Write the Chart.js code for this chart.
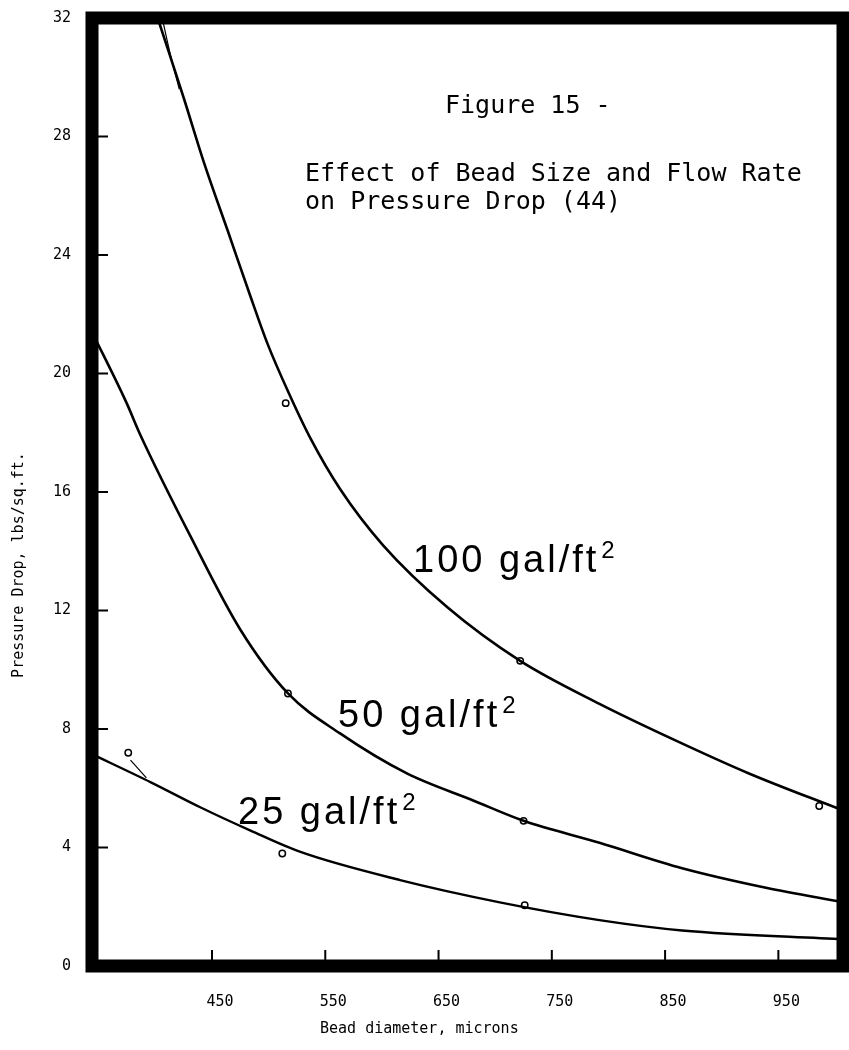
<!DOCTYPE html>
<html>
<head>
<meta charset="utf-8">
<title>Figure 15 - Pressure Drop</title>
<script src="https://cdn.jsdelivr.net/npm/chart.js@4.4.0/dist/chart.umd.min.js"></script>
<style>
  html, body { margin: 0; padding: 0; background: #fff; }
  #PressureChart { display: block; }
</style>
</head>
<body>
<canvas id="PressureChart" width="849" height="1050"></canvas>
<script>
// axis ticks
const beadTicks = [450, 550, 650, 750, 850, 950];
const dropTicks = [0, 4, 8, 12, 16, 20, 24, 28, 32];

// 100 gal/ft2 curve (bead diameter, pressure drop)
const bead100 = [390, 395, 418, 436, 457, 476, 492, 510, 530, 556, 594, 651, 715, 785, 853, 917, 1000];
const drop100 = [32.6, 32.0, 29.3, 27.1, 24.8, 22.7, 21.0, 19.4, 17.8, 16.1, 14.2, 12.1, 10.3, 8.85, 7.6, 6.5, 5.25];

// 50 gal/ft2 curve
const bead50 = [337, 367, 380, 424, 468, 510, 556, 615, 674, 718, 785, 858, 932, 1000];
const drop50 = [21.4, 19.05, 17.9, 14.5, 11.35, 9.2, 7.85, 6.5, 5.58, 4.9, 4.16, 3.3, 2.64, 2.15];

// 25 gal/ft2 curve
const bead25 = [337, 389, 433, 477, 521, 609, 697, 785, 858, 1000];
const drop25 = [7.15, 6.2, 5.35, 4.57, 3.85, 2.9, 2.15, 1.55, 1.2, 0.9];

// plotted experimental points
const pointBead = [508, 715, 979, 510, 718, 369, 505, 719];
const pointDrop = [19.0, 10.3, 5.4, 9.2, 4.9, 7.2, 3.8, 2.05];

// faint hand-drawn guides
const guideBead = [399, 406, 414];
const guideDrop = [32.0, 30.8, 29.6];
const guide25Bead = [371, 385];
const guide25Drop = [6.95, 6.35];

const monoFont = "'DejaVu Sans Mono', monospace";

function toXY(xs, ys) {
  return xs.map((x, i) => ({ x: x, y: ys[i] }));
}

function curve(xs, ys, width) {
  return {
    type: 'line',
    data: toXY(xs, ys),
    borderColor: '#000',
    borderWidth: width,
    pointRadius: 0,
    cubicInterpolationMode: 'monotone',
    fill: false
  };
}

// frame, inner tick marks and all the annotation text
const paperPlugin = {
  id: 'paper',
  afterDatasetsDraw(chart) {
    const ctx = chart.ctx;
    const a = chart.chartArea;
    const xs = chart.scales.x, ys = chart.scales.y;
    ctx.save();

    // thick frame
    ctx.strokeStyle = '#000';
    ctx.lineWidth = 13;
    ctx.strokeRect(a.left, a.top, a.right - a.left, a.bottom - a.top);

    // small inward ticks
    ctx.lineWidth = 2;
    ctx.beginPath();
    dropTicks.forEach(v => {
      const py = ys.getPixelForValue(v);
      if (v > 0 && v < 32) { ctx.moveTo(a.left, py); ctx.lineTo(a.left + 16, py); }
    });
    beadTicks.forEach(v => {
      const px = xs.getPixelForValue(v) - 8;
      ctx.moveTo(px, a.bottom); ctx.lineTo(px, a.bottom - 16);
    });
    ctx.stroke();

    ctx.fillStyle = '#000';
    ctx.textBaseline = 'alphabetic';
    ctx.textAlign = 'left';

    // figure title
    ctx.font = "25px " + monoFont;
    ctx.fillText('Figure 15 -', 445, 113);
    ctx.fillText('Effect of Bead Size and Flow Rate', 305, 181);
    ctx.fillText('on Pressure Drop (44)', 305, 209);

    // curve labels
    function rateLabel(text, x, y) {
      ctx.font = "38px 'Liberation Sans', Arial, sans-serif";
      ctx.letterSpacing = '3px';
      ctx.fillText(text, x, y);
      const w = ctx.measureText(text).width;
      ctx.font = "24px 'Liberation Sans', Arial, sans-serif";
      ctx.letterSpacing = '0px';
      ctx.fillText('2', x + w + 2, y - 14);
    }
    rateLabel('100 gal/ft', 413, 572);
    rateLabel('50 gal/ft', 338, 727);
    rateLabel('25 gal/ft', 238, 824);

    // axis titles
    ctx.font = "15px " + monoFont;
    ctx.fillText('Bead diameter, microns', 320, 1033);
    ctx.save();
    ctx.translate(23, 565);
    ctx.rotate(-Math.PI / 2);
    ctx.textAlign = 'center';
    ctx.fillText('Pressure Drop, lbs/sq.ft.', 0, 0);
    ctx.restore();

    ctx.restore();
  }
};

const ctx = document.getElementById('PressureChart').getContext('2d');
new Chart(ctx, {
  type: 'line',
  data: {
    datasets: [
      curve(bead100, drop100, 2.6),
      curve(bead50, drop50, 2.6),
      curve(bead25, drop25, 2.4),
      curve(guideBead, guideDrop, 1.2),
      curve(guide25Bead, guide25Drop, 1.2),
      {
        type: 'scatter',
        data: toXY(pointBead, pointDrop),
        pointStyle: 'circle',
        pointRadius: 3.2,
        borderColor: '#000',
        backgroundColor: '#fff',
        borderWidth: 1.5,
        showLine: false
      }
    ]
  },
  options: {
    responsive: false,
    animation: false,
    layout: { padding: { top: 18, right: 6, left: 0, bottom: 0 } },
    plugins: {
      legend: { display: false },
      tooltip: { enabled: false },
      title: { display: false }
    },
    scales: {
      x: {
        type: 'linear',
        min: 337,
        max: 1000,
        afterBuildTicks: axis => { axis.ticks = beadTicks.map(v => ({ value: v })); },
        afterFit: scale => { scale.height = 84; scale.paddingLeft = 0; scale.paddingRight = 0; },
        grid: { display: false, drawTicks: false },
        border: { display: false },
        ticks: {
          color: '#000',
          padding: 27,
          maxRotation: 0,
          font: { family: monoFont, size: 15 }
        }
      },
      y: {
        type: 'linear',
        min: 0,
        max: 32,
        afterBuildTicks: axis => { axis.ticks = dropTicks.map(v => ({ value: v })); },
        afterFit: scale => { scale.width = 92; scale.paddingTop = 0; scale.paddingBottom = 0; },
        grid: { display: false, drawTicks: false },
        border: { display: false },
        ticks: {
          color: '#000',
          padding: 21,
          font: { family: monoFont, size: 15 }
        }
      }
    }
  },
  plugins: [paperPlugin]
});
</script>
</body>
</html>
